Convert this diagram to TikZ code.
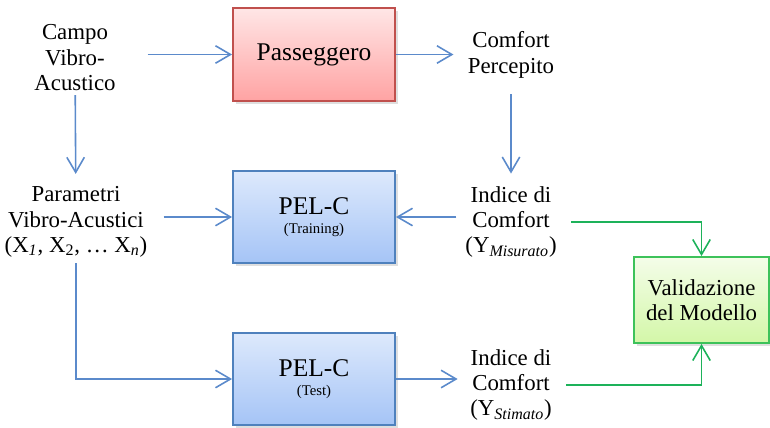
\documentclass[tikz,border=0pt]{standalone}
\usepackage{fontspec}
\setmainfont{Liberation Serif}
\usetikzlibrary{arrows.meta, calc, shadows}

\definecolor{lineblue}{HTML}{5B8ACB}
\definecolor{linegreen}{HTML}{1DB25A}
\definecolor{redtop}{HTML}{FFE6E6}
\definecolor{redbot}{HTML}{FFA3A3}
\definecolor{redline}{HTML}{C0504D}
\definecolor{bluetop}{HTML}{DDE9FC}
\definecolor{bluebot}{HTML}{A5C4F6}
\definecolor{blueline}{HTML}{4F81BD}
\definecolor{greentop}{HTML}{F4FDE9}
\definecolor{greenbot}{HTML}{D3F7A8}
\definecolor{greenline}{HTML}{3DC25A}

\begin{document}
\begin{tikzpicture}[x=0.02cm, y=-0.02cm]
		\tikzstyle{txt} = [align=center, font=\fontsize{13}{14.5}\selectfont, inner sep=2pt]
		\tikzstyle{blk} = [draw, line width=1.1pt, shading=axis, align=center,
			drop shadow={shadow xshift=1.5pt, shadow yshift=-1.5pt, opacity=0.25}]
		\tikzstyle{vel} = [lineblue, line width=0.9pt, -{Straight Barb[length=3mm, width=3.5mm]}]
		\tikzstyle{valid} = [linegreen, line width=0.9pt, -{Straight Barb[length=3mm, width=3.5mm]}]
		\useasboundingbox (0,0) rectangle (770,427);

		% blocchi
		\node[blk, redline, top color=redtop, bottom color=redbot, minimum width=3.24cm, minimum height=1.86cm,
			text=black, font=\fontsize{14.5}{16}\selectfont] (pass) at (314,54.5) {Passeggero};
		\node[blk, blueline, top color=bluetop, bottom color=bluebot, minimum width=3.24cm, minimum height=1.84cm,
			text=black] (train) at (314,217) {{\fontsize{14.5}{16}\selectfont PEL-C}\\[-1pt]{\fontsize{8.4}{10}\selectfont (Training)}};
		\node[blk, blueline, top color=bluetop, bottom color=bluebot, minimum width=3.24cm, minimum height=1.84cm,
			text=black] (test) at (314,379) {{\fontsize{14.5}{16}\selectfont PEL-C}\\[-1pt]{\fontsize{8.4}{10}\selectfont (Test)}};
		\node[blk, greenline, top color=greentop, bottom color=greenbot, minimum width=2.7cm, minimum height=1.72cm,
			text=black, font=\fontsize{13}{14.5}\selectfont] (valmod) at (701.5,300) {Validazione\\del Modello};

		% testi
		\node[txt] (campo) at (75,58) {Campo\\Vibro-\\Acustico};
		\node[txt] (param) at (76,222) {Parametri\\Vibro-Acustici\\(X\textsubscript{\textit{1}}, X\textsubscript{2}, … X\textsubscript{\textit{n}})};
		\node[txt] (compp) at (511,55) {Comfort\\Percepito};
		\node[txt] (indm) at (511,222) {Indice di\\Comfort\\(Y\textsubscript{\textit{Misurato}})};
		\node[txt] (inds) at (511,385) {Indice di\\Comfort\\(Y\textsubscript{\textit{Stimato}})};

		% collegamenti
		\draw[vel, shorten <=16pt] (campo.east |- pass) -- (pass);
		\draw[vel, shorten >=6pt] (pass) -- (compp.west |- pass);
		\draw[vel, shorten >=5pt] (campo) -- (param);
		\draw[vel, shorten <=7pt, shorten >=5pt] (compp) -- (indm);
		\draw[vel, shorten <=7pt] (param.east |- train) -- (train);
		\draw[vel, shorten <=3pt] (indm.west |- train) -- (train);
		\draw[vel] (param.south) ++(0,2) |- (test);
		\draw[vel, shorten >=5pt] (test) -- (inds.west |- test);
		\draw[valid, shorten <=6pt] (indm.east) -| (valmod.north);
		\draw[valid, shorten <=6pt] (inds.east) -| (valmod.south);
\end{tikzpicture}
\end{document}
